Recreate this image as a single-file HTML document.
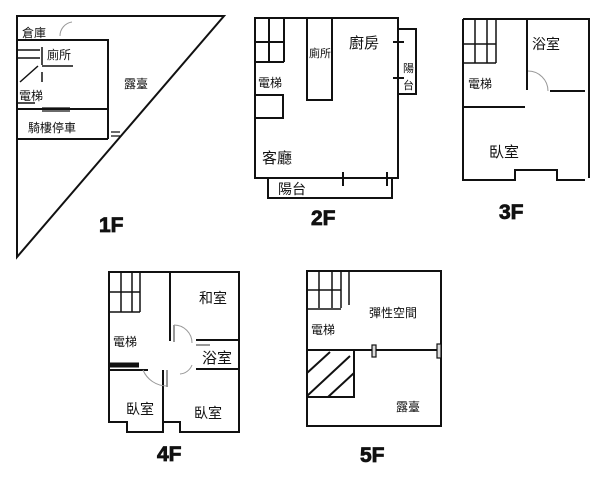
<!DOCTYPE html>
<html><head><meta charset="utf-8"><style>
html,body{margin:0;padding:0;background:#fff}
svg{display:block}
text{font-family:"Liberation Sans","Noto Sans CJK TC",sans-serif;fill:#111}
.b{font-weight:bold;font-size:21px;stroke:#111;stroke-width:0.8}
</style></head><body>
<svg width="614" height="480" viewBox="0 0 614 480" xmlns="http://www.w3.org/2000/svg">
<g fill="none" stroke="#111" stroke-width="2">
<!-- 1F -->
<path d="M17,16 H224 L17,257 Z"/>
<path d="M17,40 H108 V139 M17,109 H108 M17,139 H108"/>
<path d="M17,50 H40 M17,58 H40 M42,47 V65 M42,66 H73 M20,82 L38,66 M42,72 V82 M17,103 H35" stroke-width="1.5"/>
<path d="M42,108 H70 M42,111 H70 M111,132 H120 M111,136 H120" stroke-width="1.2"/>
<path d="M60,36 A14,14 0 0 1 72,22" stroke="#999" stroke-width="1"/>
<!-- 2F -->
<rect x="255" y="18" width="143" height="160"/>
<path d="M398,29 H416 V94 H398 M268,178 V198 H392 V178"/>
<path d="M269,18 V62 M284,18 V62 M255,42 H284 M255,62 H284 M255,95 H283 V118 H255"/>
<path d="M307,18 V100 H332 V18"/>
<path d="M398,42 V78 M393,42 H404 M393,78 H404 M343,172 V186 M387,172 V186"/>
<!-- 3F -->
<path d="M463,19 H589 V178 M463,19 V180 H515 V170 H557 V180 H585"/>
<path d="M527,19 V90 M463,107 H525 M550,91 H585"/>
<path d="M475,19 V63 M487,19 V63 M496,19 V63 M463,44 H496 M463,63 H496" stroke-width="1.5"/>
<path d="M528,71 A20,20 0 0 1 548,91" stroke="#999" stroke-width="1"/>
<!-- 4F -->
<path d="M109,272 H239 V432 H180 V422 H163 V432 H127 V422 H109 Z"/>
<path d="M170,272 V341 M196,340 H238 M196,369 H238 M163,370 V432 M109,370 H148"/>
<path d="M121,272 V312 M132,272 V312 M140,272 V312 M109,292 H140 M109,312 H140" stroke-width="1.5"/>
<path d="M109,365 H139" stroke-width="5"/>
<path d="M174,325 A18,18 0 0 1 192,343 M143,370 A26,26 0 0 0 167,386 M192,365 A14,14 0 0 1 180,374" stroke="#999" stroke-width="1"/>
<path d="M167,370 V387 M174,325 V342 M196,345 H210" stroke="#999" stroke-width="2"/>
<!-- 5F -->
<rect x="307" y="271" width="134" height="155"/>
<path d="M319,271 V308 M332,271 V308 M341,271 V308 M307,290 H341 M307,309 H341 M349,271 V305" stroke-width="1.5"/>
<path d="M307,350 H438"/>
<path d="M307,350 H354 V397 H307"/>
<path d="M307,373 L330,352 M307,396 L350,356 M328,397 L354,373"/>
<rect x="372" y="345" width="4" height="12" stroke-width="1.2" fill="#ddd"/>
<rect x="437" y="344" width="4" height="14" stroke-width="1.2" fill="#ddd"/>
</g>
<!-- labels -->
<text x="22" y="37" font-size="12">倉庫</text>
<text x="47" y="59" font-size="12">廁所</text>
<text x="124" y="88" font-size="12">露臺</text>
<text x="19" y="100" font-size="12">電梯</text>
<text x="28" y="132" font-size="12">騎樓停車</text>
<text class="b" x="99" y="232">1F</text>
<text x="349" y="48" font-size="15">廚房</text>
<text x="309" y="57" font-size="11">廁所</text>
<text x="403" y="72" font-size="11">陽</text>
<text x="403" y="89" font-size="11">台</text>
<text x="258" y="87" font-size="12">電梯</text>
<text x="262" y="163" font-size="15">客廳</text>
<text x="278" y="194" font-size="14">陽台</text>
<text class="b" x="311" y="225">2F</text>
<text x="532" y="49" font-size="14">浴室</text>
<text x="468" y="88" font-size="12">電梯</text>
<text x="489" y="157" font-size="15">臥室</text>
<text class="b" x="499" y="219">3F</text>
<text x="199" y="303" font-size="14">和室</text>
<text x="113" y="346" font-size="12">電梯</text>
<text x="202" y="363" font-size="15">浴室</text>
<text x="126" y="414" font-size="14">臥室</text>
<text x="194" y="418" font-size="14">臥室</text>
<text class="b" x="157" y="461">4F</text>
<text x="369" y="317" font-size="12">彈性空間</text>
<text x="311" y="334" font-size="12">電梯</text>
<text x="396" y="411" font-size="12">露臺</text>
<text class="b" x="360" y="462">5F</text>
</svg>
</body></html>
